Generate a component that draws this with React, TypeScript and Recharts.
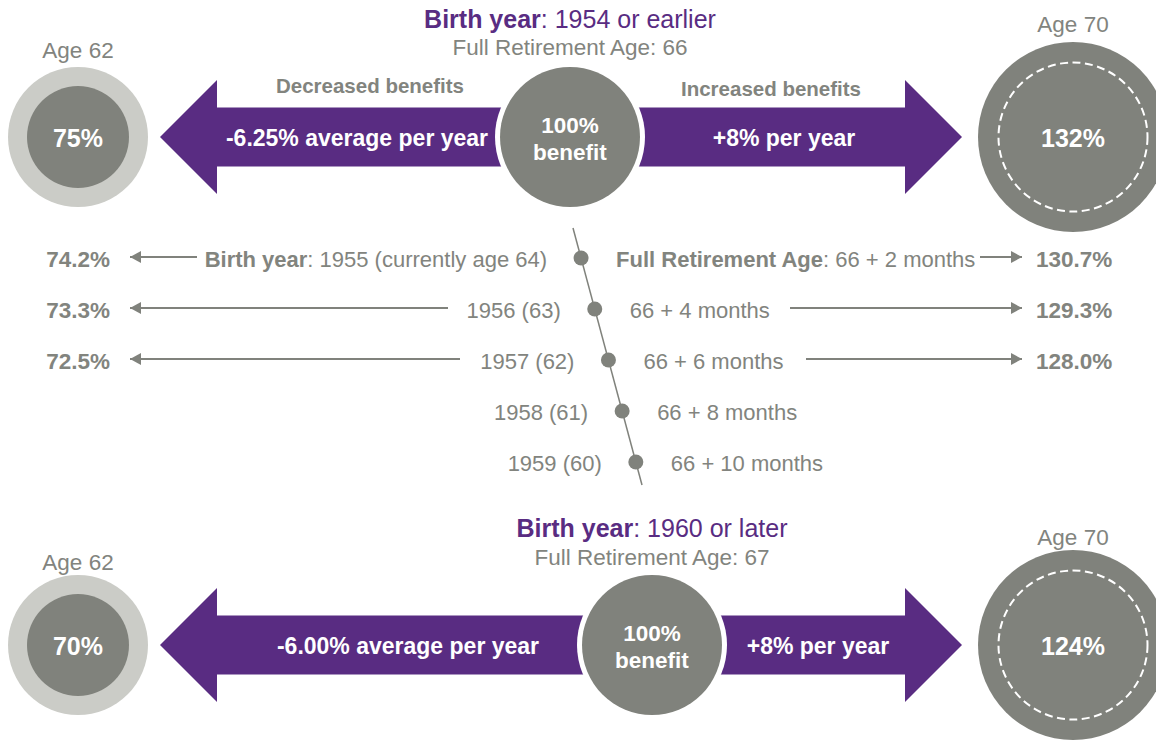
import React from "react";
import { ComposedChart, Scatter, XAxis, YAxis } from "recharts";

const W = 1156;
const H = 740;
const FONT = "'Liberation Sans', Arial, Helvetica, sans-serif";
const PURPLE = "#592C82";
const GRAY = "#80827C";
const LIGHT = "#CBCCC7";
const TEXT = "#82847E";

// ---------------- data ----------------
const cohortBirthYears = ["1954 or earlier", "1960 or later"];
const cohortFullRetirementAge = [66, 67];
const benefitAtAge62 = [75, 70];
const benefitAtAge70 = [132, 124];
const reductionPerYear = ["-6.25%", "-6.00%"];
const increasePerYear = ["+8%", "+8%"];
const earlyClaimAge = 62;
const lateClaimAge = 70;
const baseFRA = 66;

const transitionBirthYears = [1955, 1956, 1957, 1958, 1959];
const transitionCurrentAges = [64, 63, 62, 61, 60];
const transitionExtraMonths = [2, 4, 6, 8, 10];
const transitionBenefitAt62: (number | null)[] = [74.2, 73.3, 72.5, null, null];
const transitionBenefitAt70: (number | null)[] = [130.7, 129.3, 128.0, null, null];

// ---------------- layout (axes are 1:1 with pixels) ----------------
const cohortY = [137, 645];
const cohortFraX = [570, 652];
const age62X = 78;
const age70X = 1073;
const leftTipX = 160;
const rightTipX = 962;
const leftArrowTextX = [357, 408];
const rightArrowTextX = [784, 818];
const titleY = [19, 528];
const subtitleY = [47, 557];
const age62LabelY = [50, 562];
const age70LabelY = [24, 537];
const rowY = [258, 309, 360, 411, 462];
const timeline = [
  { x: 573, y: 228 },
  { x: 642, y: 485 },
];
const leftConnectorFrom = [197, 448, 460];
const rightConnectorFrom = [980, 790, 806];
const leftConnectorTo = 130;
const rightConnectorTo = 1022;
const leftPctX = 110;
const rightPctX = 1036;

const dotXAt = (y: number) =>
  timeline[0].x + ((y - timeline[0].y) * (timeline[1].x - timeline[0].x)) / (timeline[1].y - timeline[0].y);

// ---------------- shapes ----------------
type Part = { t: string; b?: boolean };

const TextShape = (p: any) => {
  const { cx, cy, payload } = p;
  if (cx == null || cy == null) return <g />;
  return (
    <text
      x={cx}
      y={cy}
      textAnchor={payload.anchor ?? "middle"}
      dominantBaseline="central"
      fontFamily={FONT}
      fontSize={payload.size}
      fill={payload.color}
    >
      {(payload.parts as Part[]).map((pt, i) => (
        <tspan key={i} fontWeight={pt.b ? 700 : 400}>
          {pt.t}
        </tspan>
      ))}
    </text>
  );
};

const ArrowBandShape = (p: any) => {
  const { cx, cy, payload } = p;
  const lt = cx + (payload.leftTip - payload.x);
  const rt = cx + (payload.rightTip - payload.x);
  const hh = 57;
  const sh = 29.5;
  const left = `${lt},${cy} ${lt + hh},${cy - hh} ${lt + hh},${cy - sh} ${cx},${cy - sh} ${cx},${cy + sh} ${lt + hh},${cy + sh} ${lt + hh},${cy + hh}`;
  const right = `${rt},${cy} ${rt - hh},${cy - hh} ${rt - hh},${cy - sh} ${cx},${cy - sh} ${cx},${cy + sh} ${rt - hh},${cy + sh} ${rt - hh},${cy + hh}`;
  return (
    <g>
      <polygon points={left} fill={PURPLE} />
      <polygon points={right} fill={PURPLE} />
    </g>
  );
};

const FraCircleShape = (p: any) => {
  const { cx, cy } = p;
  return (
    <g>
      <circle cx={cx} cy={cy} r={75} fill="#ffffff" />
      <circle cx={cx} cy={cy} r={70} fill={GRAY} />
      <text x={cx} y={cy - 12} textAnchor="middle" dominantBaseline="central" fontFamily={FONT} fontWeight={700} fontSize={22.5} fill="#ffffff">
        100%
      </text>
      <text x={cx} y={cy + 15} textAnchor="middle" dominantBaseline="central" fontFamily={FONT} fontWeight={700} fontSize={22.5} fill="#ffffff">
        benefit
      </text>
    </g>
  );
};

const EarlyCircleShape = (p: any) => {
  const { cx, cy, payload } = p;
  return (
    <g>
      <circle cx={cx} cy={cy} r={70} fill={LIGHT} />
      <circle cx={cx} cy={cy} r={51} fill={GRAY} />
      <text x={cx} y={cy + 1} textAnchor="middle" dominantBaseline="central" fontFamily={FONT} fontWeight={700} fontSize={25} fill="#ffffff">
        {payload.value}%
      </text>
    </g>
  );
};

const LateCircleShape = (p: any) => {
  const { cx, cy, payload } = p;
  return (
    <g>
      <circle cx={cx} cy={cy} r={95} fill={GRAY} />
      <circle cx={cx} cy={cy} r={74.5} fill="none" stroke="#ffffff" strokeWidth={2} strokeDasharray="8 4.5" />
      <text x={cx} y={cy + 1} textAnchor="middle" dominantBaseline="central" fontFamily={FONT} fontWeight={700} fontSize={25} fill="#ffffff">
        {payload.value}%
      </text>
    </g>
  );
};

const RowDotShape = (p: any) => {
  const { cx, cy } = p;
  return <circle cx={cx} cy={cy} r={7.5} fill={GRAY} />;
};

const ArrowHeadShape = (p: any) => {
  const { cx, cy, payload } = p;
  if (!payload.head) return <g />;
  const d = payload.dir; // -1 points left, +1 points right
  const pts = `${cx},${cy} ${cx - d * 11},${cy - 6} ${cx - d * 11},${cy + 6}`;
  return <polygon points={pts} fill={GRAY} />;
};

const EmptyShape = () => <g />;

// ---------------- series tables ----------------
const cohortPoints = cohortBirthYears.map((_, i) => ({
  x: cohortFraX[i],
  y: cohortY[i],
  leftTip: leftTipX,
  rightTip: rightTipX,
}));

const earlyPoints = benefitAtAge62.map((v, i) => ({ x: age62X, y: cohortY[i], value: v }));
const latePoints = benefitAtAge70.map((v, i) => ({ x: age70X, y: cohortY[i], value: v }));

const rowDots = transitionBirthYears.map((_, i) => ({ x: dotXAt(rowY[i]), y: rowY[i] }));

const texts: any[] = [];
cohortBirthYears.forEach((by, i) => {
  texts.push({ x: cohortFraX[i], y: titleY[i], parts: [{ t: "Birth year", b: true }, { t: `: ${by}` }], size: 25, color: PURPLE });
  texts.push({ x: cohortFraX[i], y: subtitleY[i], parts: [{ t: `Full Retirement Age: ${cohortFullRetirementAge[i]}` }], size: 22.5, color: TEXT });
  texts.push({ x: age62X, y: age62LabelY[i], parts: [{ t: `Age ${earlyClaimAge}` }], size: 22.5, color: TEXT });
  texts.push({ x: age70X, y: age70LabelY[i], parts: [{ t: `Age ${lateClaimAge}` }], size: 22.5, color: TEXT });
  texts.push({ x: leftArrowTextX[i], y: cohortY[i] + 1, parts: [{ t: `${reductionPerYear[i]} average per year`, b: true }], size: 23, color: "#ffffff" });
  texts.push({ x: rightArrowTextX[i], y: cohortY[i] + 1, parts: [{ t: `${increasePerYear[i]} per year`, b: true }], size: 23, color: "#ffffff" });
});
texts.push({ x: 370, y: 85, parts: [{ t: "Decreased benefits", b: true }], size: 20.5, color: TEXT });
texts.push({ x: 771, y: 88, parts: [{ t: "Increased benefits", b: true }], size: 20.5, color: TEXT });

transitionBirthYears.forEach((by, i) => {
  const dx = dotXAt(rowY[i]);
  const leftParts: Part[] =
    i === 0
      ? [{ t: "Birth year", b: true }, { t: `: ${by} (currently age ${transitionCurrentAges[i]})` }]
      : [{ t: `${by} (${transitionCurrentAges[i]})` }];
  const rightParts: Part[] =
    i === 0
      ? [{ t: "Full Retirement Age", b: true }, { t: `: ${baseFRA} + ${transitionExtraMonths[i]} months` }]
      : [{ t: `${baseFRA} + ${transitionExtraMonths[i]} months` }];
  texts.push({ x: dx - 34, y: rowY[i] + 1, parts: leftParts, size: 22, color: TEXT, anchor: "end" });
  texts.push({ x: dx + 35, y: rowY[i] + 1, parts: rightParts, size: 22, color: TEXT, anchor: "start" });
  const l = transitionBenefitAt62[i];
  const r = transitionBenefitAt70[i];
  if (l != null)
    texts.push({ x: leftPctX, y: rowY[i] + 1, parts: [{ t: `${l.toFixed(1)}%`, b: true }], size: 22.5, color: TEXT, anchor: "end" });
  if (r != null)
    texts.push({ x: rightPctX, y: rowY[i] + 1, parts: [{ t: `${r.toFixed(1)}%`, b: true }], size: 22.5, color: TEXT, anchor: "start" });
});

const connectors: any[][] = [];
transitionBirthYears.forEach((_, i) => {
  if (transitionBenefitAt62[i] != null)
    connectors.push([
      { x: leftConnectorFrom[i], y: rowY[i] - 1, head: false, dir: -1 },
      { x: leftConnectorTo, y: rowY[i] - 1, head: true, dir: -1 },
    ]);
  if (transitionBenefitAt70[i] != null)
    connectors.push([
      { x: rightConnectorFrom[i], y: rowY[i] - 1, head: false, dir: 1 },
      { x: rightConnectorTo, y: rowY[i] - 1, head: true, dir: 1 },
    ]);
});

export default function App() {
  return (
    <div style={{ width: W, height: H, background: "#ffffff" }}>
      <style>{"body{margin:0;}"}</style>
      <ComposedChart width={W} height={H} margin={{ top: 0, right: 0, bottom: 0, left: 0 }}>
        <XAxis type="number" dataKey="x" domain={[0, W]} allowDataOverflow hide />
        <YAxis type="number" dataKey="y" domain={[0, H]} allowDataOverflow reversed hide />
        <Scatter
          data={timeline}
          line={{ stroke: GRAY, strokeWidth: 1.5 }}
          shape={EmptyShape}
          isAnimationActive={false}
        />
        {connectors.map((c, i) => (
          <Scatter
            key={`c${i}`}
            data={c}
            line={{ stroke: GRAY, strokeWidth: 2 }}
            shape={ArrowHeadShape}
            isAnimationActive={false}
          />
        ))}
        <Scatter data={rowDots} shape={RowDotShape} isAnimationActive={false} />
        <Scatter data={cohortPoints} shape={ArrowBandShape} isAnimationActive={false} />
        <Scatter data={cohortPoints} shape={FraCircleShape} isAnimationActive={false} />
        <Scatter data={earlyPoints} shape={EarlyCircleShape} isAnimationActive={false} />
        <Scatter data={latePoints} shape={LateCircleShape} isAnimationActive={false} />
        <Scatter data={texts} shape={TextShape} isAnimationActive={false} />
      </ComposedChart>
    </div>
  );
}
